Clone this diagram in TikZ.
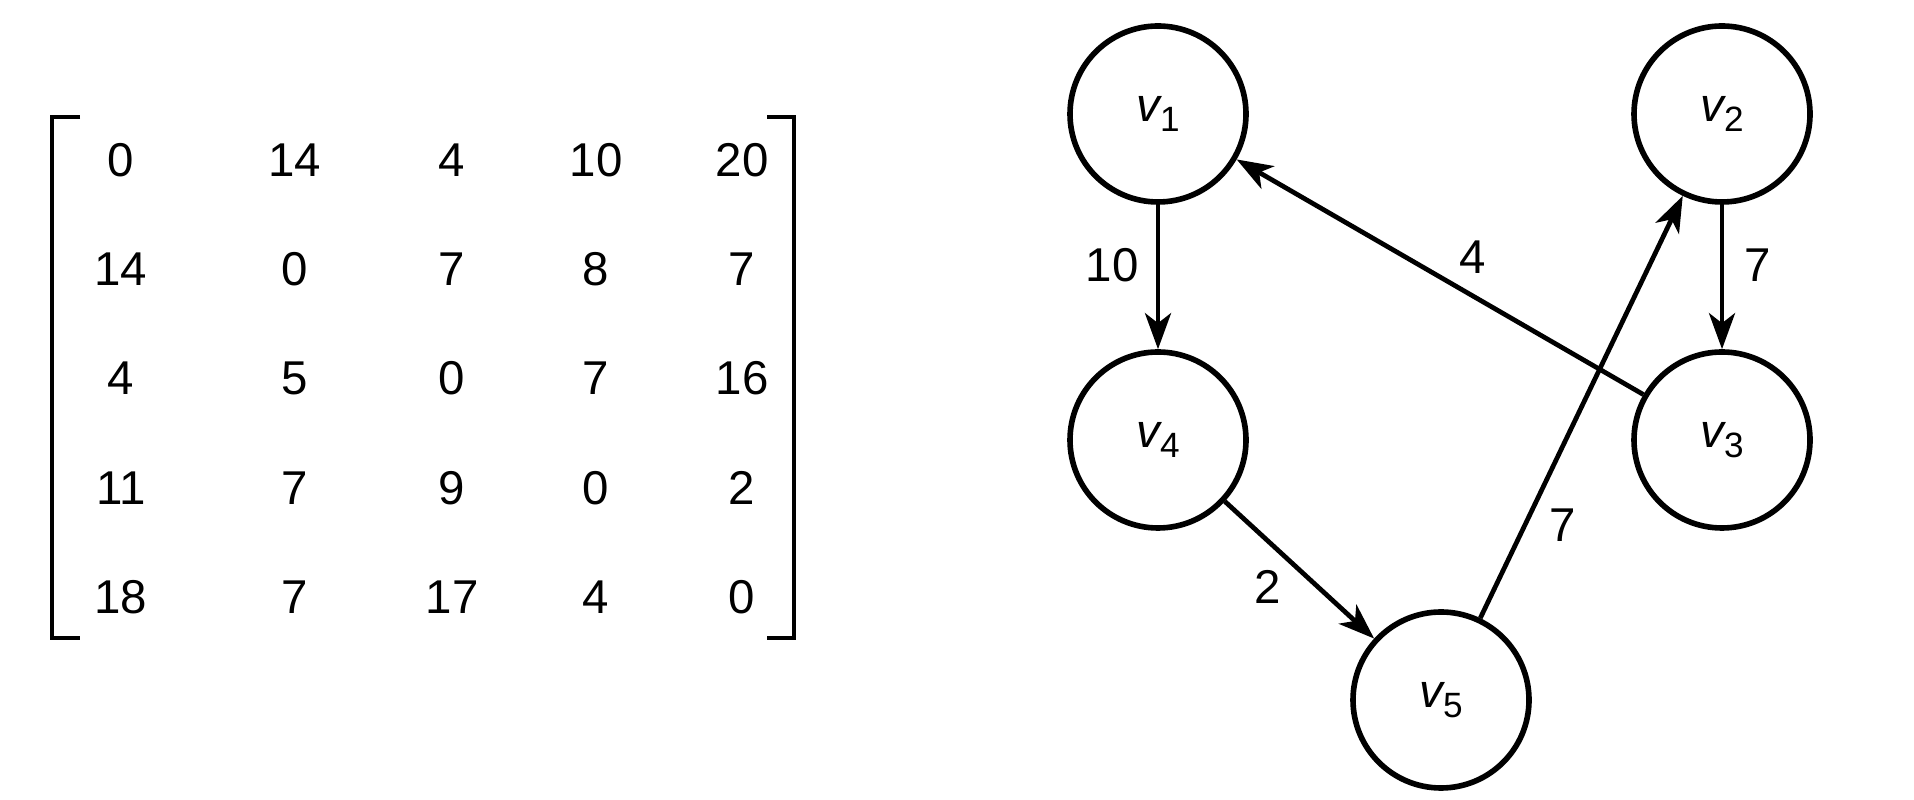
\documentclass[tikz,border=0pt]{standalone}
\usepackage{fontspec}
\setmainfont{Liberation Sans}
\usepackage{tikz}
\usetikzlibrary{positioning,arrows.meta}

\newcommand{\vlab}[1]{\textit{v}\kern-0.6pt\raisebox{-3pt}{\fontsize{10}{10}\selectfont #1}}

\begin{document}
\begin{tikzpicture}[
    font=\fontsize{13.5}{16}\selectfont,
    vert/.style={draw, circle, line width=1.6pt, minimum size=1.76cm, inner sep=0pt},
    edgarr/.style={-{Stealth[length=3.6mm,width=2.6mm,inset=1mm]}, line width=1.35pt},
    wlab/.style={inner sep=0pt},
    entry/.style={inner sep=0pt},
    brk/.style={line width=1.1pt}
  ]
    \useasboundingbox (0,0) rectangle (19.14,8);

    % distance matrix
    \foreach \row [count=\i] in {{0,14,4,10,20},{14,0,7,8,7},{4,5,0,7,16},{11,7,9,0,2},{18,7,17,4,0}} {
      \foreach \val [count=\j] in \row {
        \pgfmathsetmacro{\cx}{{1.21,2.95,4.52,5.96,7.42}[\j-1]}
        \node[entry] (m-\i-\j) at (\cx, {6.40-1.0925*(\i-1)}) {\val};
      }
    }
    \draw[brk] (0.80,6.83) -- (0.52,6.83) -- (0.52,1.62) -- (0.80,1.62);
    \draw[brk] (7.67,6.83) -- (7.94,6.83) -- (7.94,1.62) -- (7.67,1.62);

    % graph
    \node[vert] (v1) at (11.58,6.86) {\vlab{1}};
    \node[vert] (v2) at (17.22,6.86) {\vlab{2}};
    \node[vert] (v3) at (17.22,3.60) {\vlab{3}};
    \node[vert] (v4) at (11.58,3.60) {\vlab{4}};
    \node[vert] (v5) at (14.41,1.00) {\vlab{5}};

    \draw[edgarr] (v1) -- node[wlab, pos=0.42, xshift=-4.6mm] {10} (v4);
    \draw[edgarr] (v2) -- node[wlab, pos=0.42, xshift=3.6mm] {7} (v3);
    \draw[edgarr] (v3) -- node[wlab, pos=0.46, xshift=1.6mm, yshift=2.9mm] {4} (v1);
    \draw[edgarr] (v4) -- node[wlab, pos=0.44, xshift=-2.3mm, yshift=-2.5mm] {2} (v5);
    \draw[edgarr] (v5) -- node[wlab, pos=0.255, xshift=3.1mm, yshift=-1.5mm] {7} (v2);
\end{tikzpicture}
\end{document}
